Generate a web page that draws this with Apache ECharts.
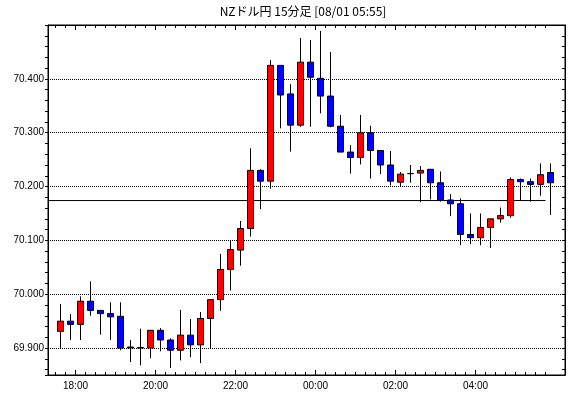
<!DOCTYPE html>
<html>
<head>
<meta charset="utf-8">
<title>NZドル円 15分足</title>
<script src="https://cdn.jsdelivr.net/npm/echarts@6/dist/echarts.min.js"></script>
<style>
html, body { margin: 0; padding: 0; background: #fff; }
#chart { width: 570px; height: 398px; }
</style>
</head>
<body>
<div id="chart"></div>
<script>
// 15分足 17:30 - 05:45
var times = ['17:30', '17:45', '18:00', '18:15', '18:30', '18:45', '19:00', '19:15', '19:30', '19:45',
    '20:00', '20:15', '20:30', '20:45', '21:00', '21:15', '21:30', '21:45',
    '22:00', '22:15', '22:30', '22:45', '23:00', '23:15', '23:30', '23:45',
    '00:00', '00:15', '00:30', '00:45', '01:00', '01:15', '01:30', '01:45',
    '02:00', '02:15', '02:30', '02:45', '03:00', '03:15', '03:30', '03:45',
    '04:00', '04:15', '04:30', '04:45', '05:00', '05:15', '05:30', '05:45'];
var opens = [69.931, 69.950, 69.944, 69.987, 69.970, 69.964, 69.959, 69.902, 69.901, 69.900,
    69.933, 69.915, 69.896, 69.924, 69.906, 69.955, 69.990, 70.046, 70.082, 70.122,
    70.230, 70.210, 70.425, 70.372, 70.314, 70.431, 70.401, 70.368, 70.312, 70.264,
    70.254, 70.300, 70.267, 70.240, 70.208, 70.224, 70.225, 70.232, 70.207, 70.175,
    70.168, 70.111, 70.105, 70.124, 70.140, 70.146, 70.213, 70.209, 70.204, 70.226];
var closes = [69.950, 69.944, 69.987, 69.970, 69.964, 69.958, 69.900, 69.900, 69.900, 69.933,
    69.915, 69.896, 69.924, 69.906, 69.955, 69.990, 70.046, 70.083, 70.122, 70.230,
    70.210, 70.425, 70.370, 70.314, 70.431, 70.403, 70.368, 70.312, 70.264, 70.254,
    70.300, 70.267, 70.240, 70.210, 70.223, 70.224, 70.230, 70.207, 70.174, 70.168,
    70.111, 70.105, 70.124, 70.140, 70.146, 70.213, 70.209, 70.204, 70.222, 70.207];
var lows = [69.900, 69.915, 69.915, 69.960, 69.925, 69.915, 69.896, 69.874, 69.868, 69.881,
    69.894, 69.863, 69.877, 69.883, 69.872, 69.899, 69.969, 70.007, 70.053, 70.107,
    70.158, 70.196, 70.308, 70.265, 70.311, 70.311, 70.336, 70.310, 70.264, 70.224,
    70.241, 70.215, 70.223, 70.202, 70.199, 70.207, 70.171, 70.176, 70.172, 70.145,
    70.091, 70.093, 70.091, 70.086, 70.133, 70.142, 70.174, 70.172, 70.183, 70.147];
var highs = [69.982, 69.963, 69.996, 70.024, 69.970, 69.985, 69.985, 69.915, 69.936, 69.933,
    69.937, 69.918, 69.971, 69.954, 69.967, 69.990, 70.075, 70.100, 70.136, 70.271,
    70.232, 70.435, 70.425, 70.390, 70.476, 70.472, 70.489, 70.450, 70.333, 70.277,
    70.333, 70.313, 70.267, 70.266, 70.227, 70.240, 70.238, 70.232, 70.228, 70.186,
    70.178, 70.150, 70.150, 70.140, 70.161, 70.217, 70.215, 70.215, 70.243, 70.243];

var refLevel = 70.174;   // 横線
var refEnd = '05:45';    // 横線の終わり（この足の手前まで）
var tickLabels = ['18:00', '20:00', '22:00', '00:00', '02:00', '04:00'];
var yMin = 69.85, yMax = 70.5;
var xMin = -1.25, xMax = 50.45;

var candles = times.map(function (t, i) {
    return [i, opens[i], closes[i], lows[i], highs[i]];
});
var majorPos = tickLabels.map(function (t) { return times.indexOf(t) - 0.5; });
var minorPos = times.map(function (t, i) { return i - 0.5; });

function labelAt(v) {
    for (var i = 0; i < majorPos.length; i++) {
        if (Math.abs(majorPos[i] - v) < 1e-6) return tickLabels[i];
    }
    return '';
}

var black = '#000000';
var font = 'Liberation Sans';

function xAxisDef(pos, ticks, len, withLabel) {
    return {
        type: 'value', position: pos, min: xMin, max: xMax,
        axisLine: { show: true, onZero: false, lineStyle: { color: black, width: 1 } },
        axisTick: { show: true, inside: true, length: len, customValues: ticks,
            lineStyle: { color: black, width: 1 } },
        axisLabel: withLabel ? { show: true, customValues: ticks, formatter: labelAt,
            color: black, fontFamily: font, fontSize: 10, margin: 6 } : { show: false },
        splitLine: { show: false }
    };
}

function yAxisDef(pos, inside, withLabel) {
    return {
        type: 'value', position: pos, min: yMin, max: yMax, scale: true,
        axisLine: { show: true, onZero: false, lineStyle: { color: black, width: 1 } },
        axisTick: { show: true, inside: inside, length: 3, lineStyle: { color: black } },
        minorTick: { show: true, splitNumber: 5, length: 3, lineStyle: { color: black } },
        axisLabel: withLabel ? {
            show: true, showMinLabel: false, showMaxLabel: false,
            formatter: function (v) { return v.toFixed(3); },
            color: black, fontFamily: font, fontSize: 10, margin: 4
        } : { show: false },
        splitLine: withLabel ? { show: true, lineStyle: { color: black, width: 1, type: [1, 1] } } : { show: false }
    };
}

var myChart = echarts.init(document.getElementById('chart'));
myChart.setOption({
    animation: false,
    backgroundColor: '#ffffff',
    title: {
        text: 'NZドル円 15分足 [08/01 05:55]',
        left: 303, top: 5, padding: 0, textAlign: 'center',
        textStyle: { fontFamily: 'Noto Sans CJK JP', fontSize: 12, fontWeight: 'normal', color: black }
    },
    grid: {
        left: 48, right: 5, top: 25, bottom: 23,
        show: true, borderColor: black, borderWidth: 1, backgroundColor: 'transparent'
    },
    xAxis: [
        xAxisDef('bottom', majorPos, 5, true),
        xAxisDef('bottom', minorPos, 3, false),
        xAxisDef('top', majorPos, 5, false),
        xAxisDef('top', minorPos, 3, false)
    ],
    yAxis: [
        yAxisDef('left', false, true),
        yAxisDef('right', true, false)
    ],
    series: [{
        type: 'line',
        xAxisIndex: 0, yAxisIndex: 0,
        data: [[xMin, refLevel], [times.indexOf(refEnd) - 0.5, refLevel]],
        symbol: 'none', silent: true,
        lineStyle: { color: black, width: 1 },
        z: 3
    }, {
        type: 'candlestick',
        xAxisIndex: 0, yAxisIndex: 0,
        data: candles,
        encode: { x: 0, y: [1, 2, 3, 4] },
        barWidth: 6,
        itemStyle: {
            color: '#ff0000', color0: '#0000ff',
            borderColor: black, borderColor0: black, borderColorDoji: black, borderWidth: 1
        },
        z: 4
    }]
});
</script>
</body>
</html>
